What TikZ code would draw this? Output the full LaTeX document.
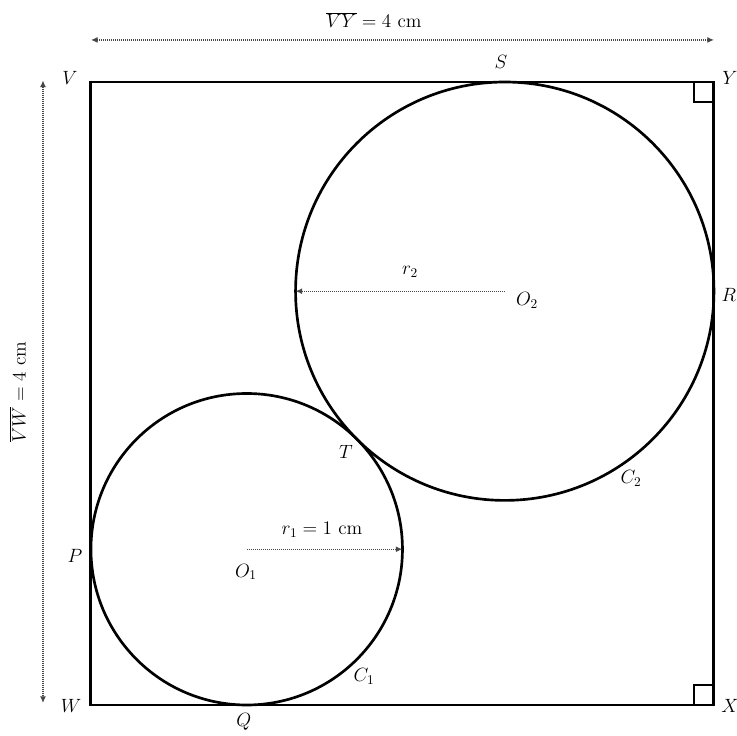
\documentclass[tikz,border=0pt]{standalone}
\usetikzlibrary{arrows.meta}
\begin{document}
\begin{tikzpicture}[x=116.8pt,y=116.8pt,
  sq/.style={line width=2.2pt, line join=miter},
  circ/.style={line width=2pt},
  rmark/.style={line width=1.6pt},
  dimline/.style={line width=0.9pt, dash pattern=on 0.9pt off 0.6pt, gray!55!black},
  tip/.style={-{Latex[length=5pt,width=4.5pt]}},
  tips/.style={{Latex[length=5pt,width=4.5pt]}-{Latex[length=5pt,width=4.5pt]}},
  lbl/.style={inner sep=0pt, font=\fontsize{14.4}{17}\selectfont},
  ]
\useasboundingbox (-0.584,-0.199) rectangle (4.148,4.5265);
% square
\coordinate (W) at (0,0);
\coordinate (X) at (4,0);
\coordinate (Y) at (4,4);
\coordinate (V) at (0,4);
\draw[sq] (W) rectangle (Y);
% right angle marks
\draw[rmark] (3.872,4) -- (3.872,3.872) -- (4,3.872);
\draw[rmark] (3.872,0) -- (3.872,0.128) -- (4,0.128);
% circles
\coordinate (O1) at (1,1);
\coordinate (O2) at (2.65685,2.65685);
\draw[circ] (O1) circle (1);
\draw[circ] (O2) circle (1.34315);
% radii
\coordinate (E1) at (2,1);
\coordinate (E2) at (1.3137,2.65685);
\draw[dimline,tip] (O1) -- (E1);
\draw[dimline,tip] (O2) -- (E2);
% dimension arrows
\coordinate (DA) at (0,4.27);
\coordinate (DB) at (4,4.27);
\draw[dimline,tips] (DA) -- (DB);
\coordinate (DC) at (-0.308,4.01);
\coordinate (DD) at (-0.308,0.013);
\draw[dimline,tips] (DC) -- (DD);
% labels
\node[lbl] (lVY) at (1.817,4.398) {$\overline{VY} = 4$ cm};
\node[lbl,rotate=90] (lVW) at (-0.469,2.01) {$\overline{VW} = 4$ cm};
\node[lbl] (lV) at (-0.135,4.026) {$V$};
\node[lbl] (lY) at (4.103,4.026) {$Y$};
\node[lbl] (lS) at (2.632,4.128) {$S$};
\node[lbl] (lR) at (4.096,2.632) {$R$};
\node[lbl] (lO2) at (2.80,2.60) {$O_2$};
\node[lbl] (lr2) at (2.048,2.78) {$r_2$};
\node[lbl] (lT) at (1.637,1.624) {$T$};
\node[lbl] (lC2) at (3.467,1.457) {$C_2$};
\node[lbl] (lP) at (-0.103,0.957) {$P$};
\node[lbl] (lO1) at (0.995,0.854) {$O_1$};
\node[lbl] (lr1) at (1.483,1.124) {$r_1 = 1$ cm};
\node[lbl] (lC1) at (1.753,0.186) {$C_1$};
\node[lbl] (lW) at (-0.128,-0.006) {$W$};
\node[lbl] (lQ) at (0.982,-0.109) {$Q$};
\node[lbl] (lX) at (4.103,-0.006) {$X$};
\end{tikzpicture}
\end{document}
